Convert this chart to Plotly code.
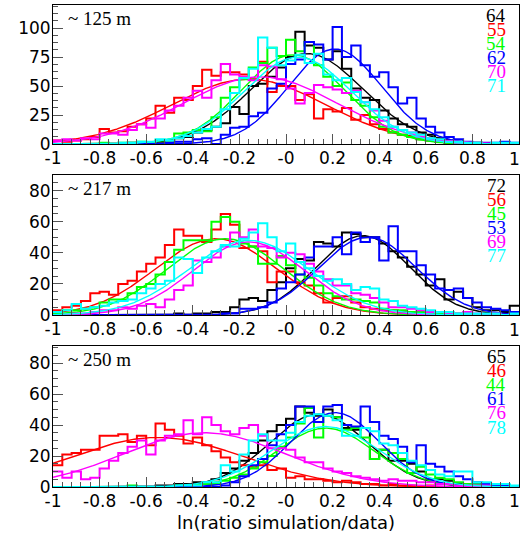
import numpy as np
import plotly.graph_objects as go

# ---------------- data ----------------
X_MIN, X_MAX, N_BINS = -1.0, 1.0, 50

X_TICK_VALUES = [-1, -0.8, -0.6, -0.4, -0.2, 0, 0.2, 0.4, 0.6, 0.8, 1]
X_TICK_LABELS = ["-1", "-0.8", "-0.6", "-0.4", "-0.2", "-0", "0.2", "0.4", "0.6", "0.8", "1"]
Y1_TICKS = [0, 25, 50, 75, 100]
Y23_TICKS = [0, 20, 40, 60, 80]
X_TITLE = "ln(ratio simulation/data)"

COLORS = ["#000000", "#ff0000", "#00ff00", "#0000ff", "#ff00ff", "#00ffff"]

PANEL_LABELS = ["~ 125 m", "~ 217 m", "~ 250 m"]
P1_IDS = ["64", "55", "54", "62", "70", "71"]
P2_IDS = ["72", "56", "45", "53", "69", "77"]
P3_IDS = ["65", "46", "44", "61", "76", "78"]

# panel 1 (~125 m) histograms, bins of 0.04 from -1 to 1
P1_BLACK = [0, 0, 0, 0, 0, 0, 0, 0, 1, 0,
            1, 2, 3, 5, 6, 10, 12, 15, 18, 32,
            26, 50, 52, 58, 66, 75, 97, 85, 83, 73,
            80, 65, 48, 40, 38, 29, 22, 17, 15, 10,
            8, 5, 3, 2, 1, 1, 0, 0, 0, 0]
P1_RED = [3, 2, 3, 4, 6, 13, 10, 11, 15, 17,
          22, 33, 27, 40, 38, 50, 64, 59, 62, 62,
          60, 56, 71, 45, 50, 50, 38, 43, 22, 30,
          28, 31, 21, 25, 17, 13, 10, 8, 7, 4,
          3, 2, 1, 1, 0, 0, 0, 0, 0, 0]
P1_GREEN = [0, 0, 0, 0, 0, 1, 0, 1, 1, 2,
            1, 3, 3, 9, 10, 12, 11, 23, 40, 49,
            56, 66, 70, 83, 76, 90, 80, 88, 68, 58,
            50, 53, 38, 33, 23, 15, 10, 8, 6, 4,
            3, 2, 1, 0, 0, 0, 0, 0, 0, 0]
P1_BLUE = [0, 0, 0, 0, 0, 0, 0, 0, 0, 0,
           0, 0, 1, 2, 2, 4, 5, 0, 8, 14,
           15, 24, 27, 48, 52, 69, 73, 88, 86, 73,
           101, 75, 85, 68, 58, 62, 49, 35, 40, 22,
           15, 10, 6, 4, 2, 1, 1, 1, 2, 1]
P1_MAGENTA = [3, 4, 3, 5, 4, 9, 9, 8, 12, 17,
              14, 22, 29, 33, 40, 46, 40, 55, 69, 60,
              58, 55, 68, 67, 56, 48, 35, 44, 51, 49,
              47, 44, 46, 36, 29, 20, 15, 12, 10, 6,
              4, 3, 2, 1, 1, 0, 0, 0, 0, 0]
P1_CYAN = [0, 0, 0, 0, 0, 0, 0, 1, 1, 2,
           2, 4, 3, 5, 7, 10, 13, 15, 30, 44,
           57, 65, 92, 83, 68, 72, 77, 70, 78, 60,
           55, 57, 45, 36, 30, 23, 15, 12, 10, 8,
           5, 4, 2, 2, 1, 1, 0, 1, 1, 1]

# panel 2 (~217 m)
P2_BLACK = [0, 0, 0, 0, 0, 0, 0, 0, 0, 0,
            0, 0, 0, 1, 0, 1, 1, 2, 2, 5,
            10, 11, 9, 16, 21, 30, 36, 35, 47, 46,
            44, 53, 52, 50, 50, 46, 41, 37, 31, 26,
            19, 23, 10, 15, 11, 5, 3, 3, 2, 6]
P2_RED = [3, 5, 6, 9, 14, 15, 13, 20, 22, 28,
          33, 37, 45, 55, 51, 51, 47, 55, 65, 58,
          43, 44, 41, 21, 28, 28, 21, 19, 14, 8,
          11, 12, 8, 5, 4, 3, 3, 2, 1, 2,
          1, 0, 0, 0, 0, 0, 0, 0, 0, 0]
P2_GREEN = [2, 3, 3, 4, 5, 8, 10, 10, 14, 18,
            20, 26, 34, 42, 48, 48, 48, 60, 63, 60,
            46, 44, 33, 33, 38, 32, 26, 24, 19, 14,
            12, 10, 10, 9, 8, 4, 3, 3, 2, 2,
            1, 1, 1, 1, 0, 0, 0, 0, 0, 0]
P2_BLUE = [0, 0, 0, 0, 0, 0, 0, 0, 0, 0,
           0, 0, 0, 0, 0, 0, 0, 0, 1, 1,
           4, 4, 5, 8, 17, 21, 26, 37, 44, 44,
           50, 39, 53, 47, 50, 35, 57, 41, 41, 32,
           26, 17, 16, 17, 11, 8, 5, 4, 3, 2]
P2_MAGENTA = [0, 0, 1, 1, 2, 3, 3, 5, 4, 6,
              7, 5, 10, 16, 19, 35, 34, 37, 44, 53,
              50, 55, 44, 43, 37, 40, 39, 33, 28, 23,
              19, 19, 14, 13, 11, 8, 5, 5, 4, 3,
              2, 2, 1, 1, 2, 1, 0, 1, 0, 0]
P2_CYAN = [2, 3, 7, 4, 5, 6, 8, 9, 10, 14,
           17, 20, 22, 37, 36, 27, 37, 41, 45, 44,
           49, 53, 59, 50, 41, 46, 34, 30, 25, 22,
           23, 20, 16, 18, 17, 10, 9, 6, 5, 4,
           3, 2, 2, 1, 1, 1, 1, 1, 0, 1]

# panel 3 (~250 m)
P3_BLACK = [0, 0, 0, 0, 0, 0, 0, 0, 0, 0,
            0, 1, 1, 2, 2, 3, 3, 5, 9, 12,
            17, 22, 30, 36, 40, 44, 52, 48, 46, 50,
            45, 38, 37, 38, 18, 24, 17, 17, 15, 10,
            5, 5, 4, 2, 2, 1, 1, 1, 0, 0]
P3_RED = [14, 21, 22, 24, 24, 33, 33, 34, 29, 33,
          27, 41, 37, 33, 28, 32, 27, 23, 19, 16,
          14, 13, 14, 11, 12, 6, 7, 5, 5, 4,
          3, 4, 3, 2, 2, 1, 2, 1, 1, 0,
          1, 0, 0, 0, 0, 0, 0, 0, 0, 0]
P3_GREEN = [0, 0, 0, 0, 0, 0, 0, 0, 1, 0,
            0, 0, 0, 1, 1, 1, 2, 2, 4, 6,
            8, 12, 16, 20, 26, 32, 41, 51, 32, 46,
            45, 37, 38, 32, 18, 24, 22, 18, 9, 13,
            8, 6, 5, 3, 2, 2, 1, 1, 1, 0]
P3_BLUE = [0, 0, 0, 0, 0, 0, 0, 0, 0, 0,
           0, 0, 0, 0, 0, 0, 0, 0, 1, 3,
           7, 14, 18, 27, 34, 40, 52, 52, 42, 52,
           53, 40, 39, 52, 42, 33, 31, 26, 16, 27,
           15, 13, 10, 7, 5, 3, 2, 1, 1, 0]
P3_MAGENTA = [10, 6, 10, 5, 6, 12, 17, 22, 26, 30,
              21, 30, 33, 34, 43, 34, 45, 40, 36, 34,
              38, 40, 33, 25, 25, 24, 19, 16, 16, 12,
              10, 9, 7, 6, 5, 4, 5, 4, 4, 3,
              3, 2, 2, 1, 1, 1, 1, 0, 0, 0]
P3_CYAN = [0, 0, 0, 0, 0, 0, 0, 0, 0, 0,
           0, 0, 0, 1, 1, 1, 3, 3, 14, 10,
           21, 30, 34, 30, 30, 35, 42, 46, 47, 46,
           43, 33, 33, 38, 36, 28, 27, 22, 17, 14,
           11, 8, 7, 10, 10, 3, 3, 2, 2, 1]

# gaussian fit parameters (amplitude, mean, sigma), order black, red, green, blue, magenta, cyan
P1_FIT_AMP = [78, 56, 77, 82, 58, 75]
P1_FIT_MEAN = [0.09, -0.16, 0.03, 0.21, -0.11, 0.05]
P1_FIT_SIGMA = [0.24, 0.33, 0.22, 0.20, 0.33, 0.23]

P2_FIT_AMP = [51, 49, 49, 50, 47, 48]
P2_FIT_MEAN = [0.33, -0.30, -0.26, 0.35, -0.16, -0.16]
P2_FIT_SIGMA = [0.20, 0.26, 0.25, 0.21, 0.24, 0.26]

P3_FIT_AMP = [47, 32, 38, 48, 35, 39]
P3_FIT_MEAN = [0.14, -0.55, 0.17, 0.21, -0.35, 0.17]
P3_FIT_SIGMA = [0.21, 0.37, 0.21, 0.19, 0.35, 0.23]

Y_RANGES = [[0, 120], [0, 90], [0, 91]]

# ---------------- figure ----------------
panels = [
    dict(hists=[P1_BLACK, P1_RED, P1_GREEN, P1_BLUE, P1_MAGENTA, P1_CYAN],
         amp=P1_FIT_AMP, mean=P1_FIT_MEAN, sigma=P1_FIT_SIGMA, ids=P1_IDS),
    dict(hists=[P2_BLACK, P2_RED, P2_GREEN, P2_BLUE, P2_MAGENTA, P2_CYAN],
         amp=P2_FIT_AMP, mean=P2_FIT_MEAN, sigma=P2_FIT_SIGMA, ids=P2_IDS),
    dict(hists=[P3_BLACK, P3_RED, P3_GREEN, P3_BLUE, P3_MAGENTA, P3_CYAN],
         amp=P3_FIT_AMP, mean=P3_FIT_MEAN, sigma=P3_FIT_SIGMA, ids=P3_IDS),
]
for p in panels:
    for h in p["hists"]:
        assert len(h) == N_BINS, len(h)

W, H = 522, 543
ML, MR, MT, MB = 53, 3, 5, 56
PLOT_BOTTOM = H - MB
PLOT_H = H - MT - MB
PLOT_W = W - ML - MR
# pixel top/bottom of each panel frame
PANEL_PX = [(5, 144), (175, 315), (346, 487)]
LINE_PX = 14.2        # spacing of the coloured numbers


def ypaper(py):
    return (PLOT_BOTTOM - py) / PLOT_H


def xpaper(px):
    return (px - ML) / PLOT_W


edges = np.linspace(X_MIN, X_MAX, N_BINS + 1)
xfit = np.linspace(X_MIN, X_MAX, 501)

fig = go.Figure()
for k, p in enumerate(panels):
    xa = "x" if k == 0 else f"x{k+1}"
    ya = "y" if k == 0 else f"y{k+1}"
    for j, h in enumerate(p["hists"]):
        fig.add_trace(go.Scatter(
            x=edges, y=list(h) + [h[-1]], mode="lines",
            line=dict(color=COLORS[j], width=2, shape="hv"),
            xaxis=xa, yaxis=ya, showlegend=False, hoverinfo="skip"))
        a, m, s = p["amp"][j], p["mean"][j], p["sigma"][j]
        fig.add_trace(go.Scatter(
            x=xfit, y=a * np.exp(-0.5 * ((xfit - m) / s) ** 2), mode="lines",
            line=dict(color=COLORS[j], width=1.4),
            xaxis=xa, yaxis=ya, showlegend=False, hoverinfo="skip"))

TICK_FONT = dict(family="DejaVu Sans", size=17, color="black")

layout = dict(
    width=W, height=H,
    margin=dict(l=ML, r=MR, t=MT, b=MB),
    paper_bgcolor="white", plot_bgcolor="white",
    showlegend=False,
)

# the last x label ("1") sits at the right figure edge; it is drawn as a
# right-anchored text so it is not clipped
x_ticktext = X_TICK_LABELS[:-1] + [""]

annotations = []
for k in range(3):
    top, bot = PANEL_PX[k]
    xkey = "xaxis" if k == 0 else f"xaxis{k+1}"
    ykey = "yaxis" if k == 0 else f"yaxis{k+1}"
    yname = "y" if k == 0 else f"y{k+1}"
    xname = "x" if k == 0 else f"x{k+1}"
    layout[xkey] = dict(
        domain=[0, 1], anchor=yname, range=[X_MIN, X_MAX],
        tickmode="array", tickvals=X_TICK_VALUES, ticktext=x_ticktext,
        ticks="inside", ticklen=10, tickwidth=1, tickcolor="#555555",
        minor=dict(ticks="inside", ticklen=5, tickwidth=1, tickcolor="#555555",
                   tick0=-1, dtick=0.04, showgrid=False),
        showline=True, linecolor="black", linewidth=1, mirror=True,
        showgrid=False, zeroline=False, tickfont=TICK_FONT,
        ticklabelstandoff=-1,
    )
    if k == 0:
        yt, ydt = Y1_TICKS, 6.25
    else:
        yt, ydt = Y23_TICKS, 5
    layout[ykey] = dict(
        domain=[ypaper(bot), ypaper(top)], anchor=xname, range=Y_RANGES[k],
        tickmode="array", tickvals=yt, ticktext=[str(v) for v in yt],
        ticks="inside", ticklen=10, tickwidth=1, tickcolor="#555555",
        minor=dict(ticks="inside", ticklen=5, tickwidth=1, tickcolor="#555555",
                   tick0=0, dtick=ydt, showgrid=False),
        showline=True, linecolor="black", linewidth=1, mirror=True,
        showgrid=False, zeroline=False, tickfont=TICK_FONT,
        ticklabelstandoff=-2,
    )
    # right-most x tick label
    annotations.append(dict(
        text=X_TICK_LABELS[-1], xref="paper", yref="paper",
        x=xpaper(521), y=ypaper(bot + 14.5), xanchor="right", yanchor="middle",
        showarrow=False, borderpad=0, font=TICK_FONT))
    # panel label
    annotations.append(dict(
        text=PANEL_LABELS[k], xref="paper", yref="paper",
        x=xpaper(66), y=ypaper(top + 13), xanchor="left", yanchor="middle",
        showarrow=False, font=dict(family="Liberation Serif", size=19, color="black")))
    # coloured numbers
    for j, t in enumerate(panels[k]["ids"]):
        annotations.append(dict(
            text=t, xref="paper", yref="paper",
            x=xpaper(507), y=ypaper(top + 10 + LINE_PX * j), xanchor="right",
            yanchor="middle", showarrow=False, borderpad=0,
            font=dict(family="Liberation Serif", size=19, color=COLORS[j])))

annotations.append(dict(
    text=X_TITLE, xref="paper", yref="paper", x=0.5, y=ypaper(522),
    xanchor="center", yanchor="middle", showarrow=False,
    font=dict(family="DejaVu Sans", size=18, color="black")))

layout["annotations"] = annotations
fig.update_layout(**layout)
# remove the page's default body margin so the figure fills the window exactly
fig.write_html("out.html", config={"displayModeBar": False},
               post_script="document.body.style.margin='0';")
